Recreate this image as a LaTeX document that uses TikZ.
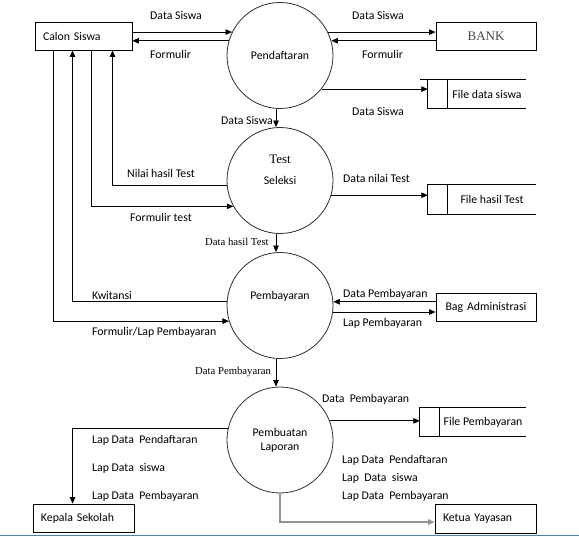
\documentclass[tikz,border=0pt]{standalone}
\usepackage{fontspec}
\newfontfamily\lblfont{Carlito}
\newfontfamily\tnrfont{Liberation Serif}
\usepackage{tikz}
\usetikzlibrary{arrows.meta,positioning,calc}
\usepackage{xcolor}
\definecolor{cLine}{RGB}{45,45,45}
\definecolor{cBank}{RGB}{70,70,70}
\definecolor{cBorder}{RGB}{79,129,189}
\tikzset{
  basefont/.style={font=\lblfont\fontsize{11.8}{14}\selectfont},
  ttlfont/.style={font=\tnrfont\fontsize{13}{15}\selectfont},
  entbox/.style={rectangle,draw=black,line width=0.9pt,minimum height=28pt,
                 inner xsep=8pt,text width=#1,align=left,basefont},
  entbox/.default=84pt,
  procnode/.style={circle,draw=cLine,line width=0.8pt,minimum size=106pt,
                   inner sep=0pt,align=center,basefont},
  storenode/.style={rectangle,minimum height=28pt,minimum width=#1,
                    inner sep=0pt,basefont},
  lbl/.style={anchor=west,inner sep=0pt,basefont},
  serlbl/.style={anchor=west,inner sep=0pt,font=\tnrfont\fontsize{10.7}{12}\selectfont},
  arr/.style={-{Triangle[length=6.5pt,width=5.5pt]},line width=0.8pt,color=black},
  grayarr/.style={-{Triangle[length=6.5pt,width=5.5pt]},line width=1.4pt,color=gray!85}
}
\begin{document}
\begin{tikzpicture}[x=1pt,y=-1pt]
  \useasboundingbox (0,0) rectangle (579,537);

  % entitas luar
  \node[entbox=81pt] (calon) at (83.5,36) {Calon Siswa};
  \node[entbox,align=center,ttlfont,text=cBank] (bank) at (486,36) {BANK};
  \node[entbox,align=center] (adm) at (486,307) {Bag Administrasi};
  \node[entbox=85pt] (kepala) at (83.5,518) {Kepala Sekolah};
  \node[entbox=85pt,minimum height=29pt] (ketua) at (485.5,518.5) {Ketua Yayasan};

  % proses
  \node[procnode] (pend) at (280,55.5) {Pendaftaran};
  \node[procnode,label={[ttlfont,yshift=21.5pt]center:Test}] (test) at (280,180.5) {Seleksi};
  \node[procnode,label={[basefont,yshift=9.5pt]center:Pembayaran}] (bayar) at (280,305.5) {};
  \node[procnode] (lapor) at (280,440) {Pembuatan\\Laporan};

  % penyimpanan
  \node[storenode=78pt] (fds) at (487,94) {File data siswa};
  \node[storenode=88pt,minimum height=29pt] (fht) at (492,199.5) {File hasil Test};
  \node[storenode=86pt] (fpb) at (483,422) {File Pembayaran};
  \foreach \s in {fds,fht,fpb}
    \draw[line width=0.9pt] (\s.north east) -- ([xshift=-20pt]\s.north west)
      -- ([xshift=-20pt]\s.south west) -- (\s.south east)
      (\s.north west) -- (\s.south west);
  \draw[line width=0.9pt] ([xshift=-20pt]fds.north west) -- ([xshift=-28pt]fds.north west);

  % Calon Siswa - Pendaftaran - BANK
  \draw[arr] (pend.154 -| calon.east) -- (pend.154);
  \draw[arr] (pend.164) -- (pend.164 -| calon.east);
  \draw[arr] (pend.26) -- (pend.26 -| bank.west);
  \draw[arr] (pend.16 -| bank.west) -- (pend.16);
  \draw[arr] (pend.321) -- ([xshift=-20pt]pend.321 -| fds.west);

  % alur antar proses
  \draw[arr] ([xshift=-4pt]pend.south) -- ([xshift=-4pt]test.north);
  \draw[arr] ([xshift=-4pt]test.south) -- ([xshift=-4pt]bayar.north);
  \draw[arr] ([xshift=-4pt]bayar.south) -- ([xshift=-4pt]lapor.north);

  % Test Seleksi
  \draw[arr] (test.185) -| ([xshift=78pt]calon.south west);
  \draw[arr] ([xshift=57pt]calon.south west) |- (test.209);
  \draw[arr] (test.344) -- ([xshift=-20pt]test.344 -| fht.west);

  % Pembayaran
  \draw[arr] (bayar.176) -| ([xshift=38pt]calon.south west);
  \draw[arr] ([xshift=19pt]calon.south west) |- (bayar.197);
  \draw[arr] (bayar.4 -| adm.west) -- (bayar.4);
  \draw[arr] (bayar.353) -- (bayar.353 -| adm.west);

  % Pembuatan Laporan
  \draw[arr] (lapor.21) -- ([xshift=-20pt]lapor.21 -| fpb.west);
  \draw[arr] (lapor.167) -| ([xshift=40pt]kepala.north west);
  \draw[grayarr] (lapor.south) |- ([yshift=-3.5pt]ketua.west);

  % label aliran
  \node[lbl] (lDsCalon) at (150,15) {Data Siswa};
  \node[lbl] (lFmCalon) at (150,54) {Formulir};
  \node[lbl] (lDsBank) at (352,15) {Data Siswa};
  \node[lbl] (lFmBank) at (362,54) {Formulir};
  \node[lbl] (lDsFile) at (352,111) {Data Siswa};
  \node[lbl] (lDsTest) at (221,120) {Data Siswa};
  \node[lbl] (lNilai) at (127,173) {Nilai hasil Test};
  \node[lbl] (lFmTest) at (130,217) {Formulir test};
  \node[lbl] (lDnTest) at (343,178) {Data nilai Test};
  \node[serlbl] (lHasil) at (205,242) {Data hasil Test};
  \node[lbl] (lKwit) at (92,295) {Kwitansi};
  \node[lbl] (lFmLap) at (92,332) {Formulir/Lap Pembayaran};
  \node[lbl] (lDpAdm) at (343,294) {Data Pembayaran};
  \node[lbl] (lLpAdm) at (343,323) {Lap Pembayaran};
  \node[serlbl] (lDpLap) at (195,372) {Data Pembayaran};
  \node[lbl] (lDpFile) at (322,399) {Data~ Pembayaran};
  \node[lbl] (lKsA) at (92,440) {Lap Data~ Pendaftaran};
  \node[lbl] (lKsB) at (92,468) {Lap Data~ siswa};
  \node[lbl] (lKsC) at (92,496) {Lap Data~ Pembayaran};
  \node[lbl] (lKyA) at (342,460) {Lap Data~ Pendaftaran};
  \node[lbl] (lKyB) at (342,478) {Lap~ Data~ siswa};
  \node[lbl] (lKyC) at (342,496) {Lap Data~ Pembayaran};

  % garis tepi bawah
  \draw[cBorder,line width=1.5pt] (0,535.5) -- (579,535.5);
\end{tikzpicture}
\end{document}
